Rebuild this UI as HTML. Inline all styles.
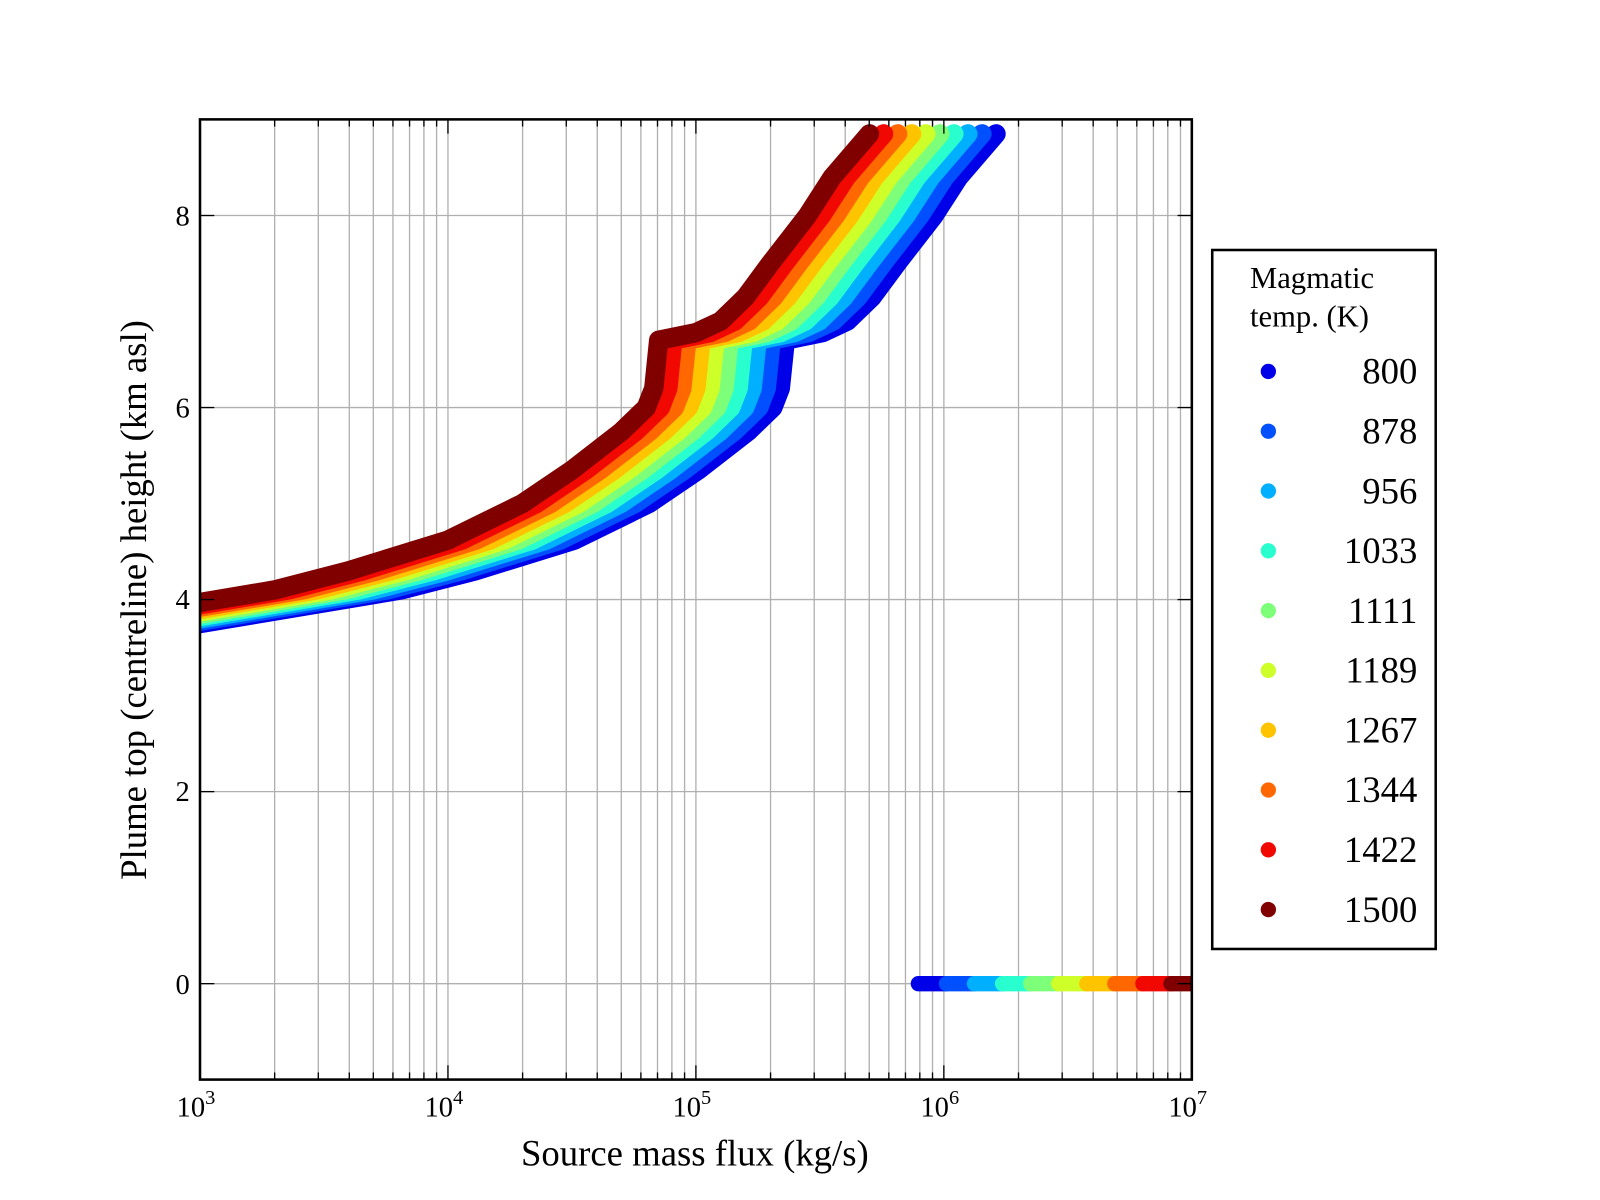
<!DOCTYPE html>
<html><head><meta charset="utf-8"><style>
html,body{margin:0;padding:0;background:#fff}
svg{display:block;font-family:"Liberation Serif",serif}
</style></head><body>
<svg id="s" width="1600" height="1200" xmlns="http://www.w3.org/2000/svg">
<defs><clipPath id="c"><rect x="196" y="117" width="972" height="941"/></clipPath></defs>
<rect width="1600" height="1200" fill="#fff"/>
<g transform="scale(1.0204)">
<g id="grid" stroke="#b0b0b0" stroke-width="1.3"></g>
<g id="data" clip-path="url(#c)"></g>
<g id="ticks" stroke="#000" stroke-width="1.3"></g>
<rect x="196" y="117" width="972" height="941" fill="none" stroke="#000" stroke-width="2.5"/>
<g font-size="28" text-anchor="end">
<text x="186" y="221">8</text><text x="186" y="409">6</text><text x="186" y="597">4</text><text x="186" y="785">2</text><text x="186" y="974">0</text>
</g>
<g font-size="28" text-anchor="middle">
<text x="192" y="1094">10<tspan font-size="20" dy="-12">3</tspan></text>
<text x="435" y="1094">10<tspan font-size="20" dy="-12">4</tspan></text>
<text x="678" y="1094">10<tspan font-size="20" dy="-12">5</tspan></text>
<text x="921" y="1094">10<tspan font-size="20" dy="-12">6</tspan></text>
<text x="1164" y="1094">10<tspan font-size="20" dy="-12">7</tspan></text>
</g>
<text x="681" y="1142" font-size="36" text-anchor="middle">Source mass flux (kg/s)</text>
<text transform="translate(143,588) rotate(-90)" font-size="36" text-anchor="middle">Plume top (centreline) height (km asl)</text>
<rect x="1188" y="245" width="219" height="685" fill="#fff" stroke="#000" stroke-width="2.5"/>
<text x="1225" y="282" font-size="30">Magmatic</text>
<text x="1225" y="320" font-size="30">temp. (K)</text>
<g id="leg" font-size="36" text-anchor="end"></g>
</g>
</svg>
<script>
var cols=["#0000e8","#0050ff","#00b0ff","#29ffce","#7dff7a","#ceff29","#ffc400","#ff6800","#f10800","#800000"];
var temps=[800,878,956,1033,1111,1189,1267,1344,1422,1500];
var NS="http://www.w3.org/2000/svg";
function el(p,t,a){var e=document.createElementNS(NS,t);for(var k in a)e.setAttribute(k,a[k]);p.appendChild(e);return e;}
function X(L){return 196+(L-3)*243;}
function Y(h){return 964-h*94.1;}
var g=document.getElementById("grid"),tk=document.getElementById("ticks");
for(var d=3;d<7;d++){for(var m=1;m<10;m++){var x=X(d+Math.log10(m));if(m>1||d>3){el(g,"line",{x1:x,x2:x,y1:117,y2:1058});}
el(tk,"line",{x1:x,x2:x,y1:1058,y2:m==1?1044:1051});el(tk,"line",{x1:x,x2:x,y1:117,y2:m==1?131:124});}}
for(var h=0;h<=8;h+=2){el(g,"line",{x1:196,x2:1168,y1:Y(h),y2:Y(h)});el(tk,"line",{x1:196,x2:210,y1:Y(h),y2:Y(h)});el(tk,"line",{x1:1154,x2:1168,y1:Y(h),y2:Y(h)});}
var P=[[2.3,3.68],[2.49,3.75],[3,3.97],[3.3,4.1],[3.6,4.3],[4,4.62],[4.3,5.0],[4.5,5.35],[4.7,5.75],[4.8,6.0],[4.83,6.2],[4.85,6.7],[5.0,6.78],[5.1,6.9],[5.2,7.15],[5.3,7.5],[5.45,8.0],[5.55,8.4],[5.7,8.85]];
var dat=document.getElementById("data");
for(var i=0;i<10;i++){var sh=(9-i)*0.0567;var pts=[];
for(var j=0;j<P.length;j++){pts.push(X(P[j][0]+sh).toFixed(1)+","+Y(P[j][1]).toFixed(1));}
el(dat,"polyline",{points:pts.join(" "),fill:"none",stroke:cols[i],"stroke-width":19,"stroke-linecap":"round","stroke-linejoin":"round"});}
for(var i=0;i<10;i++){var x0=900+i*27.5;el(dat,"line",{x1:x0,x2:x0+27.5,y1:964,y2:964,stroke:cols[i],"stroke-width":15,"stroke-linecap":"round"});}
var lg=document.getElementById("leg");
for(var i=0;i<10;i++){var y=364+58.6*i;el(lg,"circle",{cx:1243,cy:y,r:7.5,fill:cols[i]});var t=el(lg,"text",{x:1389,y:y+12});t.textContent=temps[i];}
</script>
</body></html>
